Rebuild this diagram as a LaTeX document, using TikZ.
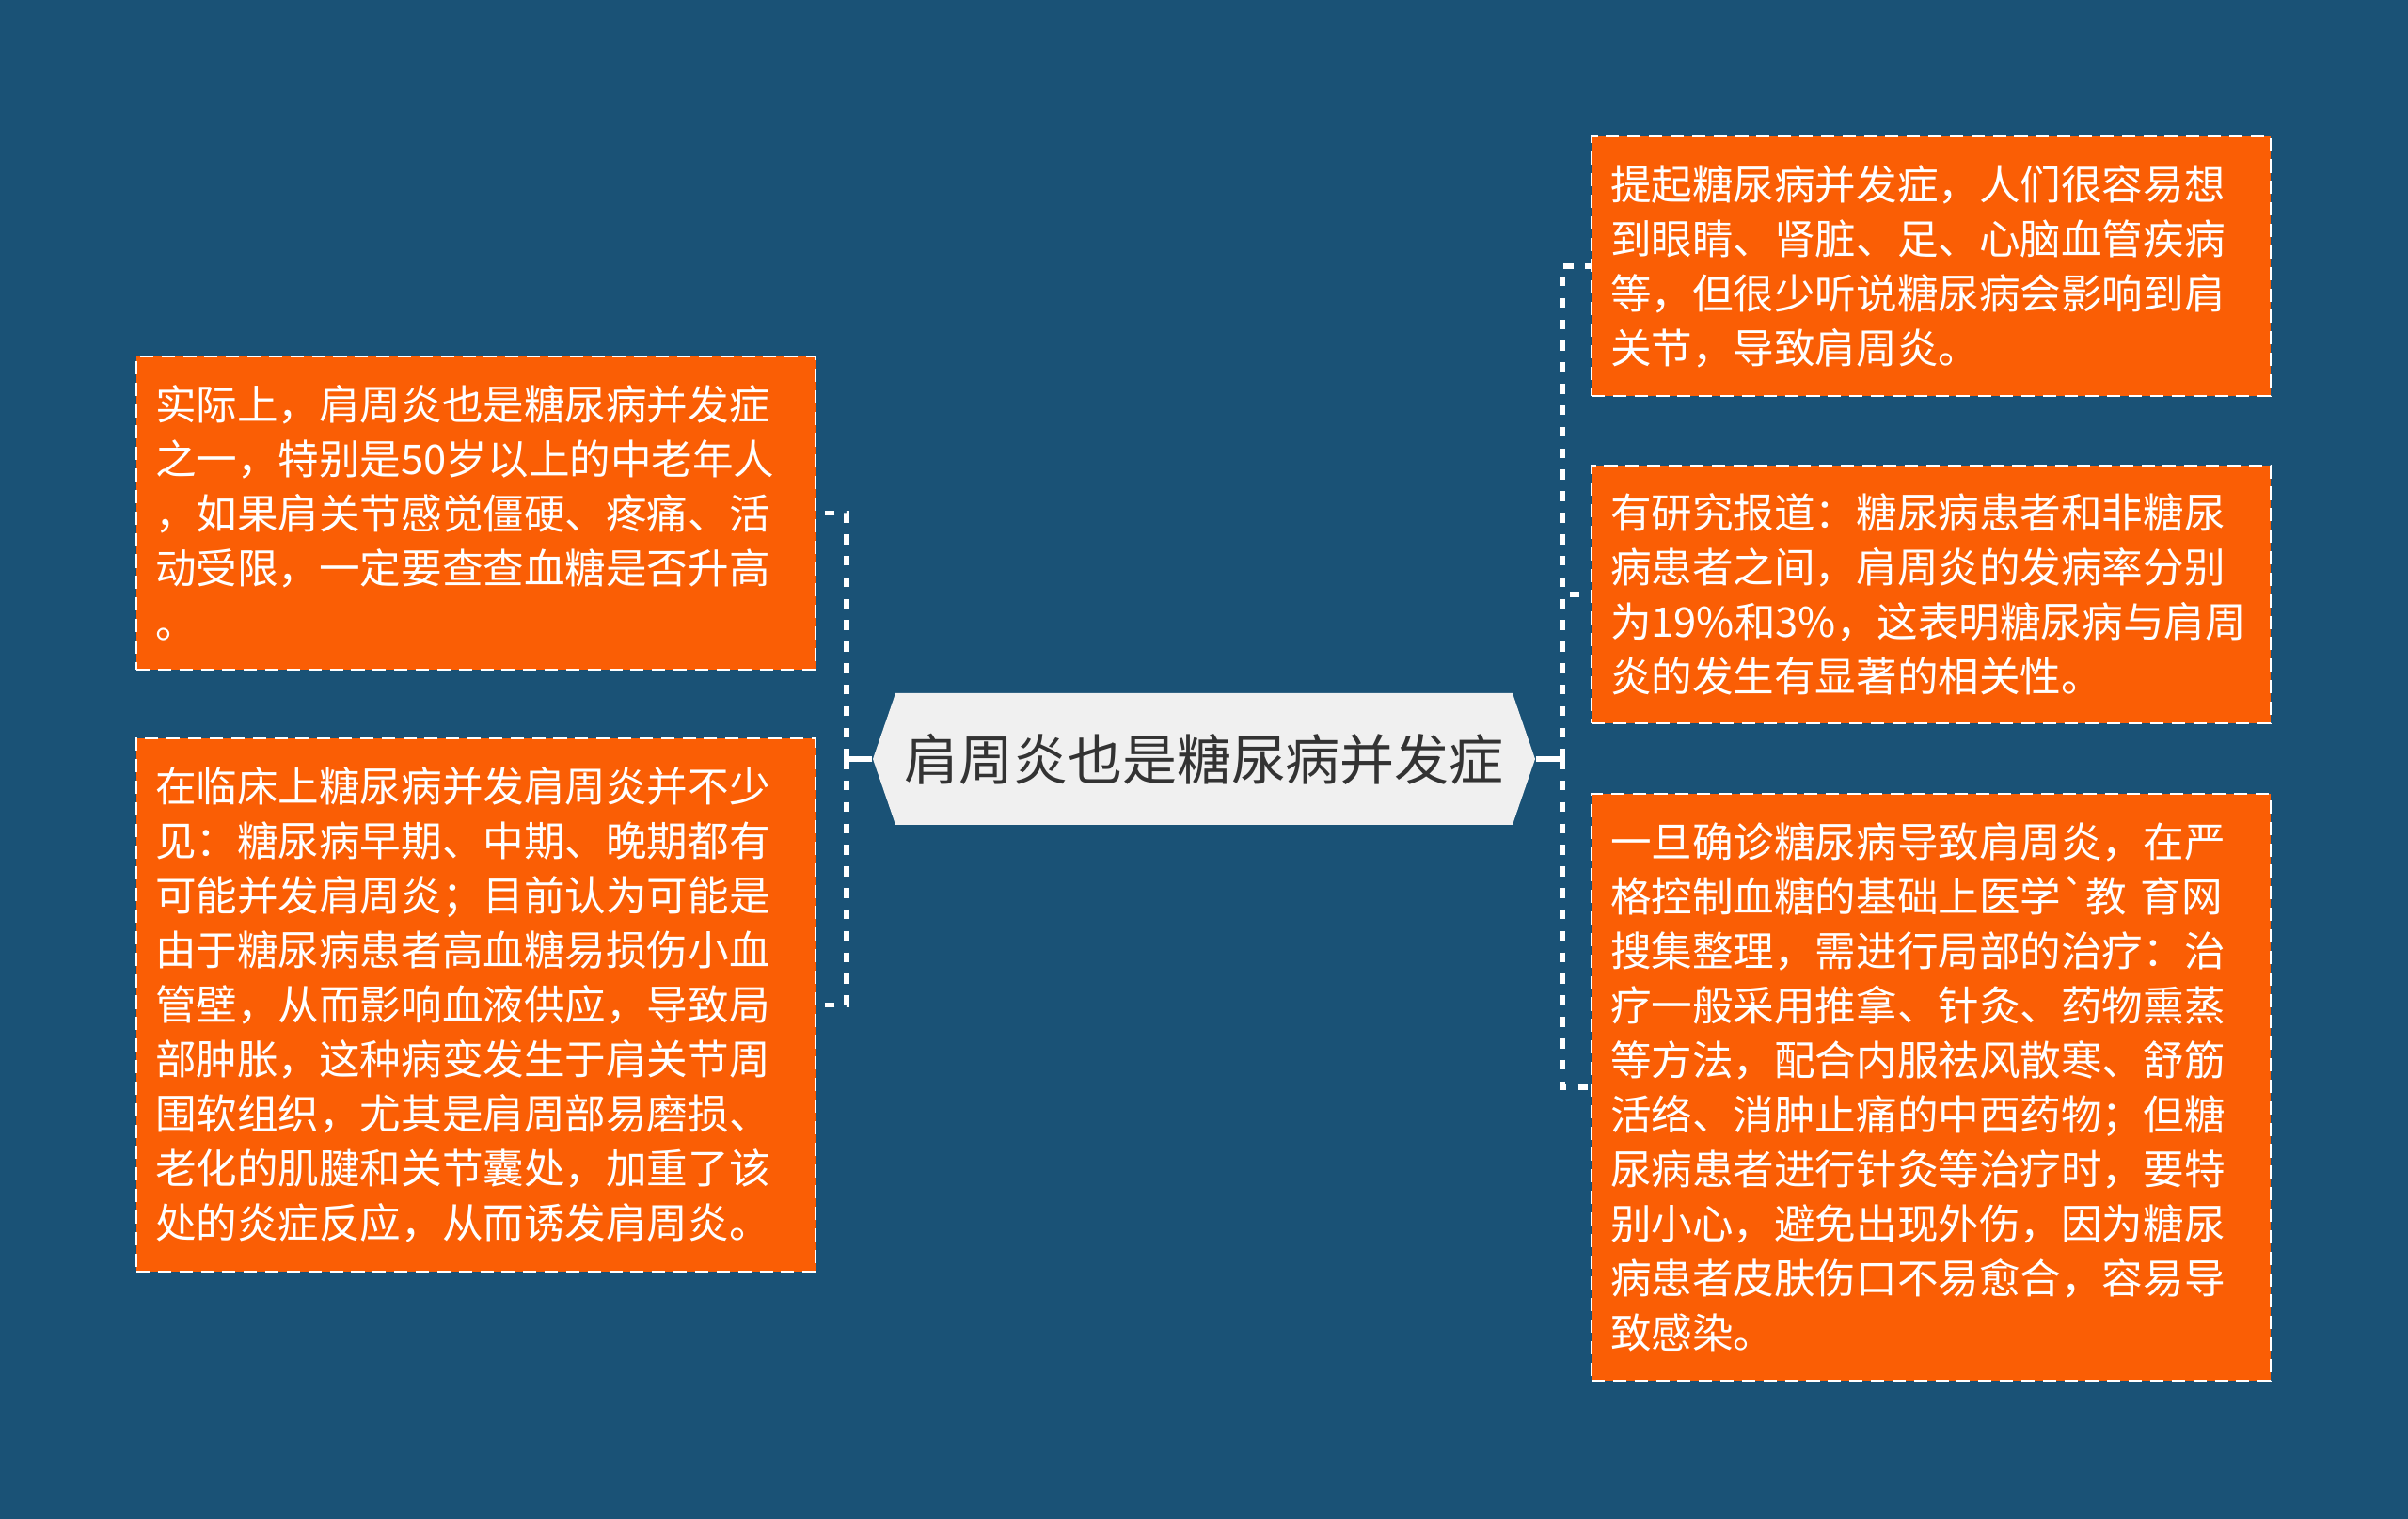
\documentclass[tikz,border=0pt]{standalone}
\usepackage{fontspec}
\newfontfamily\cjk{Noto Sans CJK SC}[Ligatures=TeXOff]
\usetikzlibrary{shapes.symbols}
\definecolor{bgblue}{HTML}{1A5276}
\definecolor{leaforange}{HTML}{FA5E05}
\definecolor{rootgray}{HTML}{F0F0F0}
\definecolor{roottext}{HTML}{333333}

\begin{document}
\begin{tikzpicture}
	% Styles for the boxes and the links
	\tikzset{leafbox/.style={draw=white, fill=leaforange, line width=0.8pt, dash pattern=on 4pt off 2.5pt, text=white, text width=6.82cm, inner xsep=0.2cm, inner ysep=0pt, align=left, font=\cjk\fontsize{12.4pt}{16.5pt}\selectfont}}
	\tikzset{rootbox/.style={signal, signal to=east and west, signal pointer angle=142, fill=rootgray, text=roottext, minimum width=7.04cm, minimum height=1.4cm, inner sep=0pt, font=\cjk\fontsize{16.5pt}{20pt}\selectfont}}
	\tikzset{link/.style={white, line width=1.5pt, dash pattern=on 3pt off 3.5pt}}
	\tikzset{stem/.style={white, line width=1.5pt}}
	
	% Draw the background
	\fill[bgblue] (0,0) rectangle (25.6,-16.15);
	
	% Centre topic
	\node[rootbox] (root) at (12.80,-8.07) {肩周炎也是糖尿病并发症};
	
	% Left side
	\node[leafbox, minimum height=3.33cm] (left1) at (5.06,-5.455) {实际上，肩周炎也是糖尿病并发症\\之一，特别是50岁以上的中老年人\\，如果肩关节感觉僵硬、疼痛、活\\动受限，一定要查查血糖是否升高\\。};
	\node[leafbox, minimum height=5.67cm] (left2) at (5.06,-10.685) {在临床上糖尿病并发肩周炎并不少\\见：糖尿病早期、中期、晚期都有\\可能并发肩周炎；目前认为可能是\\由于糖尿病患者高血糖易损伤小血\\管壁，从而影响血液供应，导致局\\部肿胀，这种病变发生于肩关节周\\围软组织，尤其是肩周部易磨损、\\老化的肌腱和关节囊处，加重了该\\处的炎症反应，从而诱发肩周炎。};
	
	% Right side
	\node[leafbox, minimum height=2.76cm] (right1) at (20.53,-2.83) {提起糖尿病并发症，人们很容易想\\到眼睛、肾脏、足、心脑血管疾病\\等，但很少听说糖尿病会影响到肩\\关节，导致肩周炎。};
	\node[leafbox, minimum height=2.74cm] (right2) at (20.53,-6.32) {有研究报道：糖尿病患者和非糖尿\\病患者之间，肩周炎的发病率分别\\为19\%和3\%，这表明糖尿病与肩周\\炎的发生有显著的相关性。};
	\node[leafbox, minimum height=6.24cm] (right3) at (20.53,-11.56) {一旦确诊糖尿病导致肩周炎，在严\\格控制血糖的基础上医学`教 育网\\搜集整理，需进行局部的治疗：治\\疗一般采用推拿、针灸、药物熏蒸\\等方法，配合内服祛风散寒、舒筋\\活络、消肿止痛的中西药物；但糖\\尿病患者进行针灸等治疗时，要特\\别小心，避免出现外伤，因为糖尿\\病患者皮肤伤口不易愈合，容易导\\致感染。};
	
	% Links
	\coordinate (ljoint) at (9.00,-8.07);
	\coordinate (rjoint) at (16.61,-8.07);
	\draw[stem] (root.west) -- (ljoint);
	\draw[stem] (root.east) -- (rjoint);
	\draw[stem] ([yshift=0.11cm]ljoint) -- ([yshift=-0.11cm]ljoint);
	\draw[stem] ([yshift=0.11cm]rjoint) -- ([yshift=-0.11cm]rjoint);
	\draw[link] (ljoint) |- (left1.east);
	\draw[link] (ljoint) |- (left2.east);
	\draw[link] (rjoint) |- (right1.west);
	\draw[link] (rjoint) |- (right2.west);
	\draw[link] (rjoint) |- (right3.west);
	
\end{tikzpicture}
\end{document}
